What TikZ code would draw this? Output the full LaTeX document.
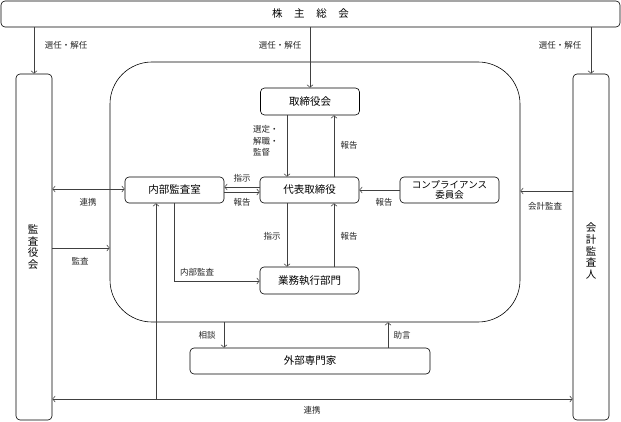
\documentclass[tikz,border=0pt]{standalone}
\usepackage{fontspec}
\setmainfont{Noto Sans CJK JP}
\usetikzlibrary{arrows.meta}
\begin{document}
\begin{tikzpicture}[x=1pt,y=-1pt,
  box/.style={draw=black, line width=0.6pt, rounded corners=4pt, inner sep=0pt, font=\fontsize{10.5}{12}\selectfont},
  lbl/.style={font=\fontsize{8.5}{9}\selectfont, inner sep=0pt, text=black!85},
  arr/.style={draw=black!75, line width=0.55pt, -{Straight Barb[length=2.6pt,width=6pt]}},
  darr/.style={draw=black!75, line width=0.55pt, {Straight Barb[length=2.6pt,width=6pt]}-{Straight Barb[length=2.6pt,width=6pt]}},
  ln/.style={draw=black!75, line width=0.55pt}]
\useasboundingbox (0,0) rectangle (621,422);

% nodes
\node[box, minimum width=619pt, minimum height=26pt] (top) at (310.5,14) {株\hspace{1.1em}主\hspace{1.1em}総\hspace{1.1em}会};
\node[box, minimum width=36pt, minimum height=346pt] (kansa) at (34,247) {};
\node[box, minimum width=36pt, minimum height=346pt] (kaikei) at (591,247) {};
\node[font=\fontsize{10.5}{11.6}\selectfont, align=center, inner sep=0pt] (kansaT) at (33,247) {監\\査\\役\\会};
\node[font=\fontsize{10.5}{11.6}\selectfont, align=center, inner sep=0pt] (kaikeiT) at (591,251) {会\\計\\監\\査\\人};
\node[draw=black, line width=0.6pt, rounded corners=42pt, minimum width=410pt, minimum height=260pt, inner sep=0pt] (big) at (315,192) {};
\node[box, minimum width=99pt, minimum height=27pt] (tori) at (310,101.5) {取締役会};
\node[box, minimum width=99pt, minimum height=26pt] (daihyo) at (309.5,190) {代表取締役};
\node[box, minimum width=99pt, minimum height=26pt] (naibu) at (174.5,190) {内部監査室};
\node[box, minimum width=99pt, minimum height=26pt, align=center, font=\fontsize{9.5}{10}\selectfont] (comp) at (449.5,190) {コンプライアンス\\委員会};
\node[box, minimum width=99pt, minimum height=27pt] (gyomu) at (309.5,280.5) {業務執行部門};
\node[box, minimum width=240pt, minimum height=26pt] (gaibu) at (310,361) {外部専門家};

% helper coordinates
\coordinate (xL) at (287,0);
\coordinate (xR) at (334,0);
\coordinate (y187) at (0,187);
\coordinate (y192) at (0,192);
\coordinate (y189) at (0,189);
\coordinate (y191) at (0,191);
\coordinate (y248) at (0,248);
\coordinate (y399) at (0,399);
\coordinate (x156) at (156,0);
\coordinate (x224) at (224,0);
\coordinate (x388) at (388,0);
\coordinate (bend) at (174,281);

% top arrows
\draw[arr] (top.south -| kansa) -- (kansa.north);
\draw[arr] (top.south -| tori) -- (tori.north);
\draw[arr] (top.south -| kaikei) -- (kaikei.north);

% board <-> representative
\draw[arr] (tori.south -| xL) -- (daihyo.north -| xL);
\draw[arr] (daihyo.north -| xR) -- (tori.south -| xR);
\draw[arr] (daihyo.south -| xL) -- (gyomu.north -| xL);
\draw[arr] (gyomu.north -| xR) -- (daihyo.south -| xR);

% internal audit <-> representative
\draw[arr] (daihyo.west |- y187) -- (naibu.east |- y187);
\draw[arr] (naibu.east |- y192) -- (daihyo.west |- y192);
\draw[arr] (comp.west) -- (daihyo.east);

% audit board
\draw[darr] (kansa.east |- y189) -- (naibu.west |- y189);
\draw[arr] (kansa.east |- y248) -- (big.west |- y248);
\draw[arr] (kaikei.west |- y191) -- (big.east |- y191);
\draw[darr] (kansa.east |- y399) -- (kaikei.west |- y399);
\draw[arr] (x156 |- y399) -- (naibu.south -| x156);

% internal audit -> business
\draw[arr] (naibu.south -| bend) -- (bend) -- (gyomu.west |- bend);

% external experts
\draw[arr] (big.south -| x224) -- (gaibu.north -| x224);
\draw[arr] (gaibu.north -| x388) -- (big.south -| x388);

% labels
\node[lbl] (l1) at (66,45) {選任・解任};
\node[lbl] (l2) at (280,45) {選任・解任};
\node[lbl] (l3) at (560,45) {選任・解任};
\node[lbl, anchor=west, align=left, font=\fontsize{8.5}{11.5}\selectfont] (l4) at (253,141) {選定・\\解職・\\監督};
\node[lbl] (l5) at (349,145) {報告};
\node[lbl] (l6) at (242,178) {指示};
\node[lbl] (l7) at (242,202) {報告};
\node[lbl] (l8) at (272,236) {指示};
\node[lbl] (l9) at (349,236) {報告};
\node[lbl] (l10) at (384,202) {報告};
\node[lbl] (l11) at (545,206) {会計監査};
\node[lbl] (l12) at (88,202) {連携};
\node[lbl] (l13) at (80,261) {監査};
\node[lbl] (l14) at (197,272) {内部監査};
\node[lbl] (l15) at (207,335) {相談};
\node[lbl] (l16) at (402,335) {助言};
\node[lbl] (l17) at (312,410) {連携};
\end{tikzpicture}
\end{document}
